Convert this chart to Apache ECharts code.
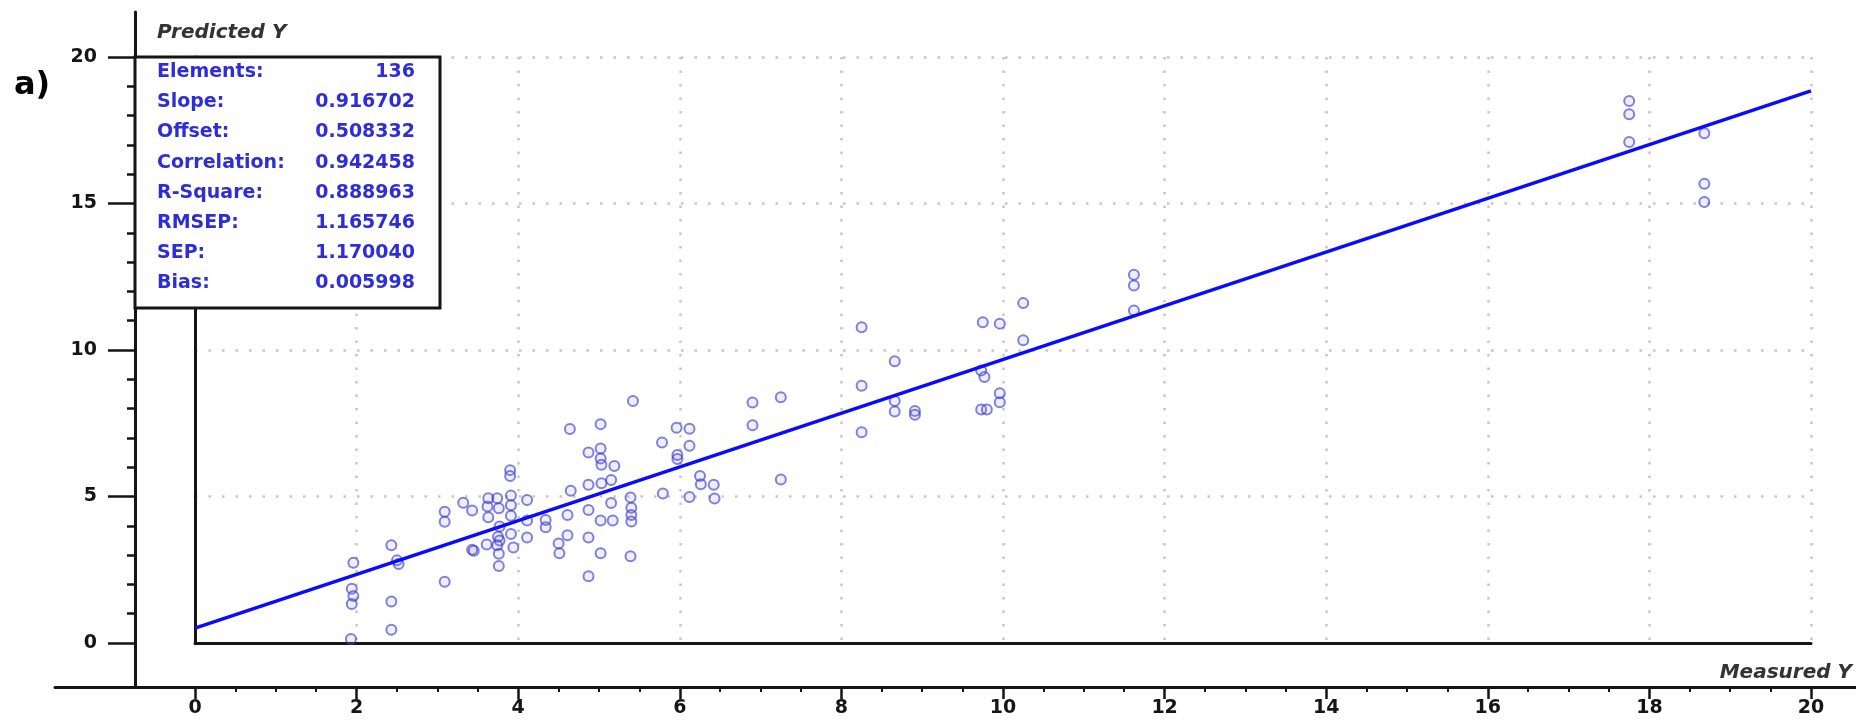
<!DOCTYPE html>
<html>
<head>
<meta charset="utf-8">
<title>Predicted vs Measured Y</title>
<script src="https://cdn.jsdelivr.net/npm/echarts@6/dist/echarts.min.js"></script>
<style>
  html, body { margin: 0; padding: 0; background: #fff; }
  #chart { width: 1856px; height: 723px; }
</style>
</head>
<body>
<div id="chart"></div>
<script>
// measured / predicted pairs
const measured = [
  1.96, 1.94, 1.96, 1.94, 1.93, 2.43, 2.50, 2.52, 2.43, 2.43,
  3.09, 3.09, 3.09, 3.32, 3.43, 3.43, 3.45, 3.62, 3.63, 3.61,
  3.63, 3.74, 3.76, 3.77, 3.75, 3.77, 3.74, 3.76, 3.76, 3.90,
  3.90, 3.91, 3.91, 3.91, 3.91, 3.94, 4.11, 4.11, 4.11, 4.34,
  4.34, 4.50, 4.51, 4.61, 4.61, 4.65, 4.64, 4.87, 4.87, 4.87,
  4.87, 4.87, 5.02, 5.02, 5.02, 5.03, 5.03, 5.02, 5.02, 5.15,
  5.19, 5.15, 5.17, 5.39, 5.40, 5.40, 5.40, 5.39, 5.42, 5.78,
  5.79, 5.96, 5.97, 5.97, 6.12, 6.12, 6.12, 6.25, 6.26, 6.42,
  6.43, 6.90, 6.90, 7.25, 7.25, 8.25, 8.25, 8.25, 8.66, 8.66,
  8.66, 8.91, 8.91, 9.75, 9.73, 9.77, 9.73, 9.80, 9.96, 9.96,
  9.96, 10.25, 10.25, 11.62, 11.62, 11.62, 17.75, 17.75, 17.75, 18.68,
  18.68, 18.68
];
const predicted = [
  2.74, 1.85, 1.60, 1.33, 0.14, 3.34, 2.82, 2.70, 1.42, 0.45,
  4.48, 4.14, 2.09, 4.79, 4.52, 3.18, 3.15, 4.66, 4.29, 3.36,
  4.94, 4.94, 4.60, 3.98, 3.63, 3.50, 3.34, 3.05, 2.63, 5.90,
  5.70, 5.03, 4.70, 4.34, 3.72, 3.26, 4.88, 4.18, 3.60, 4.20,
  3.95, 3.40, 3.06, 4.37, 3.68, 5.20, 7.30, 6.50, 5.40, 4.54,
  3.60, 2.28, 7.47, 6.64, 6.30, 6.08, 5.45, 4.18, 3.06, 5.56,
  6.04, 4.78, 4.18, 4.97, 4.62, 4.37, 4.15, 2.96, 8.26, 6.84,
  5.10, 7.35, 6.42, 6.28, 7.31, 6.73, 4.98, 5.70, 5.42, 5.40,
  4.93, 8.21, 7.43, 8.39, 5.58, 10.78, 8.78, 7.19, 9.62, 8.26,
  7.90, 7.92, 7.79, 10.95, 9.30, 9.08, 7.97, 7.97, 10.90, 8.52,
  8.22, 11.60, 10.33, 12.57, 12.20, 11.35, 18.50, 18.05, 17.10, 17.40,
  15.67, 15.05
];

const statLabels = ['Elements:', 'Slope:', 'Offset:', 'Correlation:', 'R-Square:', 'RMSEP:', 'SEP:', 'Bias:'];
const statValues = ['136', '0.916702', '0.508332', '0.942458', '0.888963', '1.165746', '1.170040', '0.005998'];

const slope = 0.916702;
const offset = 0.508332;
const fitX = [0, 20];

const FONT = '"DejaVu Sans", sans-serif';
const INK = '#151515';
const STAT_BLUE = '#2e2ed8';

const chart = echarts.init(document.getElementById('chart'), null, { renderer: 'canvas' });

const points = measured.map((x, i) => [x, predicted[i]]);
const fitLine = fitX.map(x => [x, slope * x + offset]);

// dotted grid like the original software
const dotted = { show: true, lineStyle: { color: '#c6c6c6', width: 2.5, type: [2.5, 11] } };
const tickLabel = { color: INK, fontFamily: FONT, fontWeight: 'bold', fontSize: 19 };
const frameLine = { show: true, onZero: false, lineStyle: { color: INK, width: 3 } };

// stats box in the top-left corner
const statsGraphic = [
  {
    type: 'rect', z: 100,
    shape: { x: 135, y: 57, width: 305, height: 251 },
    style: { fill: '#fff', stroke: INK, lineWidth: 3 }
  }
];
statLabels.forEach((lab, i) => {
  const y = 72 + i * 30.2;
  statsGraphic.push({
    type: 'text', z: 101, x: 157, y: y,
    style: { text: lab, fill: STAT_BLUE, font: 'bold 19px ' + FONT, verticalAlign: 'middle' }
  });
  statsGraphic.push({
    type: 'text', z: 101, x: 415, y: y,
    style: { text: statValues[i], fill: STAT_BLUE, font: 'bold 19px ' + FONT, align: 'right', verticalAlign: 'middle' }
  });
});

const option = {
  animation: false,
  backgroundColor: '#fff',
  grid: [
    { left: 195, top: 57, width: 1616, height: 586 },   // plot area
    { left: 55, top: 12, right: 0, bottom: 36 }         // outer frame lines
  ],
  xAxis: [
    {
      gridIndex: 0, type: 'value', min: 0, max: 20, interval: 2,
      axisLine: frameLine,
      axisTick: { show: false }, axisLabel: { show: false },
      splitLine: dotted
    },
    {
      gridIndex: 0, type: 'value', min: 0, max: 20, interval: 2,
      position: 'bottom', offset: 44,
      axisLine: frameLine,
      axisTick: { show: true, length: 12, lineStyle: { color: INK, width: 2.5 } },
      minorTick: { show: true, splitNumber: 4, length: 5, lineStyle: { color: INK, width: 2 } },
      axisLabel: Object.assign({ margin: 12 }, tickLabel),
      splitLine: { show: false }
    },
    {
      gridIndex: 1, type: 'value', min: 0, max: 1,
      axisLine: frameLine,
      axisTick: { show: false }, axisLabel: { show: false }, splitLine: { show: false }
    }
  ],
  yAxis: [
    {
      gridIndex: 0, type: 'value', min: 0, max: 20, interval: 5,
      axisLine: frameLine,
      axisTick: { show: false }, axisLabel: { show: false },
      splitLine: dotted
    },
    {
      gridIndex: 0, type: 'value', min: 0, max: 20, interval: 5,
      position: 'left', offset: 60,
      axisLine: frameLine,
      axisTick: { show: true, length: 27, lineStyle: { color: INK, width: 2.5 } },
      minorTick: { show: true, splitNumber: 5, length: 8, lineStyle: { color: INK, width: 2.5 } },
      axisLabel: Object.assign({ margin: 38 }, tickLabel),
      splitLine: { show: false }
    },
    {
      gridIndex: 1, type: 'value', min: 0, max: 1, offset: -80,
      axisLine: frameLine,
      axisTick: { show: false }, axisLabel: { show: false }, splitLine: { show: false }
    }
  ],
  series: [
    {
      type: 'scatter', xAxisIndex: 0, yAxisIndex: 0,
      data: points,
      symbol: 'circle', symbolSize: 10,
      itemStyle: { color: 'rgba(120,120,240,0.16)', borderColor: 'rgba(60,60,205,0.8)', borderWidth: 2 },
      z: 2
    },
    {
      type: 'line', xAxisIndex: 0, yAxisIndex: 0,
      data: fitLine,
      symbol: 'none',
      lineStyle: { color: '#0a0aff', width: 3.5 },
      z: 3
    }
  ],
  graphic: statsGraphic.concat([
    {
      type: 'text', z: 101, x: 157, y: 33,
      style: { text: 'Predicted Y', fill: '#333', font: 'italic bold 20px ' + FONT, verticalAlign: 'middle' }
    },
    {
      type: 'text', z: 101, x: 1852, y: 673,
      style: { text: 'Measured Y', fill: '#333', font: 'italic bold 20px ' + FONT, align: 'right', verticalAlign: 'middle' }
    },
    {
      type: 'text', z: 101, x: 14, y: 86,
      style: { text: 'a)', fill: '#000', font: 'bold 32px ' + FONT, verticalAlign: 'middle' }
    }
  ])
};

chart.setOption(option);
</script>
</body>
</html>
